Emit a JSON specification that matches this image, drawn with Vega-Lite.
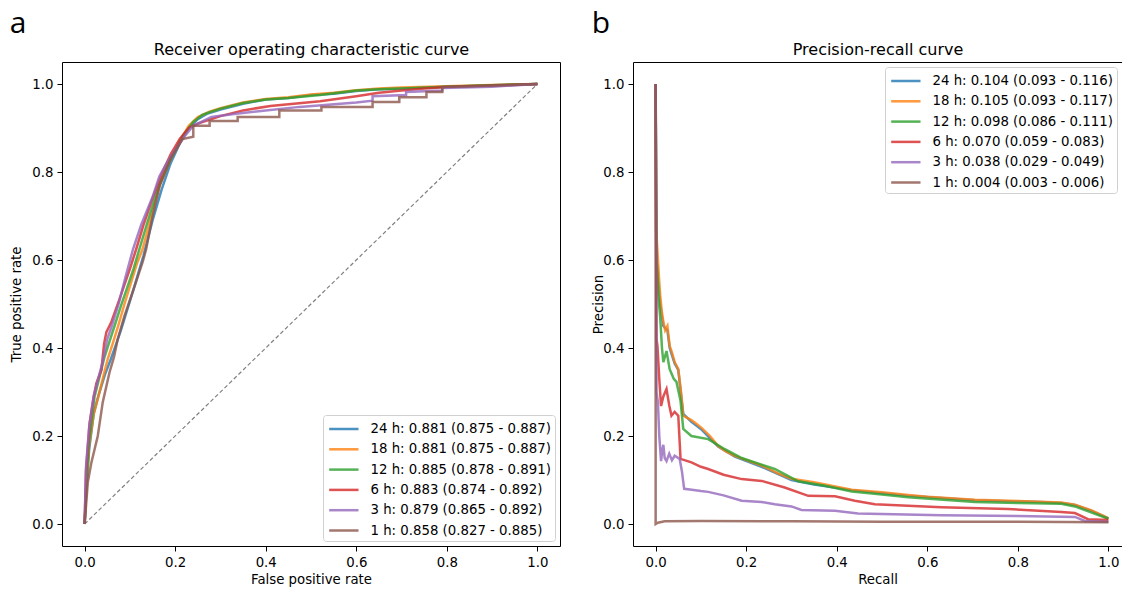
{
"$schema":"https://vega.github.io/schema/vega-lite/v6.json",
"padding":{"left":9,"top":8,"right":0,"bottom":0},
"bounds":"flush",
"spacing":73,
"background":"white",
"datasets":{
"roc":[
{"s":"24 h","x":0,"y":0},{"s":"24 h","x":0.004,"y":0.08},{"s":"24 h","x":0.01,"y":0.17},{"s":"24 h","x":0.02,"y":0.25},{"s":"24 h","x":0.03,"y":0.29},{"s":"24 h","x":0.045,"y":0.34},{"s":"24 h","x":0.058,"y":0.375},{"s":"24 h","x":0.07,"y":0.41},{"s":"24 h","x":0.08,"y":0.44},{"s":"24 h","x":0.095,"y":0.49},{"s":"24 h","x":0.11,"y":0.54},{"s":"24 h","x":0.13,"y":0.61},{"s":"24 h","x":0.15,"y":0.69},{"s":"24 h","x":0.17,"y":0.76},{"s":"24 h","x":0.19,"y":0.82},{"s":"24 h","x":0.21,"y":0.865},{"s":"24 h","x":0.23,"y":0.9},{"s":"24 h","x":0.25,"y":0.92},{"s":"24 h","x":0.27,"y":0.932},{"s":"24 h","x":0.3,"y":0.942},{"s":"24 h","x":0.35,"y":0.955},{"s":"24 h","x":0.4,"y":0.965},{"s":"24 h","x":0.45,"y":0.968},{"s":"24 h","x":0.5,"y":0.975},{"s":"24 h","x":0.55,"y":0.978},{"s":"24 h","x":0.6,"y":0.984},{"s":"24 h","x":0.65,"y":0.988},{"s":"24 h","x":0.7,"y":0.99},{"s":"24 h","x":0.8,"y":0.994},{"s":"24 h","x":0.9,"y":0.997},{"s":"24 h","x":1,"y":1},
{"s":"18 h","x":0,"y":0},{"s":"18 h","x":0.004,"y":0.09},{"s":"18 h","x":0.01,"y":0.18},{"s":"18 h","x":0.02,"y":0.25},{"s":"18 h","x":0.029,"y":0.284},{"s":"18 h","x":0.04,"y":0.33},{"s":"18 h","x":0.051,"y":0.375},{"s":"18 h","x":0.062,"y":0.41},{"s":"18 h","x":0.074,"y":0.45},{"s":"18 h","x":0.088,"y":0.5},{"s":"18 h","x":0.103,"y":0.55},{"s":"18 h","x":0.115,"y":0.59},{"s":"18 h","x":0.128,"y":0.625},{"s":"18 h","x":0.145,"y":0.69},{"s":"18 h","x":0.166,"y":0.77},{"s":"18 h","x":0.188,"y":0.825},{"s":"18 h","x":0.21,"y":0.87},{"s":"18 h","x":0.23,"y":0.905},{"s":"18 h","x":0.25,"y":0.925},{"s":"18 h","x":0.276,"y":0.937},{"s":"18 h","x":0.3,"y":0.945},{"s":"18 h","x":0.35,"y":0.958},{"s":"18 h","x":0.4,"y":0.966},{"s":"18 h","x":0.45,"y":0.97},{"s":"18 h","x":0.5,"y":0.976},{"s":"18 h","x":0.55,"y":0.98},{"s":"18 h","x":0.6,"y":0.986},{"s":"18 h","x":0.65,"y":0.99},{"s":"18 h","x":0.7,"y":0.992},{"s":"18 h","x":0.8,"y":0.995},{"s":"18 h","x":0.9,"y":0.998},{"s":"18 h","x":1,"y":1},
{"s":"12 h","x":0,"y":0},{"s":"12 h","x":0.004,"y":0.1},{"s":"12 h","x":0.01,"y":0.19},{"s":"12 h","x":0.022,"y":0.29},{"s":"12 h","x":0.033,"y":0.335},{"s":"12 h","x":0.044,"y":0.38},{"s":"12 h","x":0.055,"y":0.415},{"s":"12 h","x":0.066,"y":0.45},{"s":"12 h","x":0.08,"y":0.495},{"s":"12 h","x":0.095,"y":0.54},{"s":"12 h","x":0.108,"y":0.58},{"s":"12 h","x":0.121,"y":0.625},{"s":"12 h","x":0.14,"y":0.69},{"s":"12 h","x":0.155,"y":0.74},{"s":"12 h","x":0.166,"y":0.773},{"s":"12 h","x":0.188,"y":0.825},{"s":"12 h","x":0.217,"y":0.882},{"s":"12 h","x":0.24,"y":0.914},{"s":"12 h","x":0.26,"y":0.93},{"s":"12 h","x":0.276,"y":0.936},{"s":"12 h","x":0.3,"y":0.944},{"s":"12 h","x":0.35,"y":0.957},{"s":"12 h","x":0.4,"y":0.965},{"s":"12 h","x":0.45,"y":0.968},{"s":"12 h","x":0.52,"y":0.975},{"s":"12 h","x":0.6,"y":0.985},{"s":"12 h","x":0.65,"y":0.988},{"s":"12 h","x":0.7,"y":0.99},{"s":"12 h","x":0.8,"y":0.994},{"s":"12 h","x":0.9,"y":0.997},{"s":"12 h","x":1,"y":1},
{"s":"6 h","x":0,"y":0},{"s":"6 h","x":0.003,"y":0.12},{"s":"6 h","x":0.011,"y":0.23},{"s":"6 h","x":0.02,"y":0.29},{"s":"6 h","x":0.026,"y":0.32},{"s":"6 h","x":0.037,"y":0.35},{"s":"6 h","x":0.043,"y":0.41},{"s":"6 h","x":0.048,"y":0.436},{"s":"6 h","x":0.059,"y":0.459},{"s":"6 h","x":0.077,"y":0.511},{"s":"6 h","x":0.1,"y":0.58},{"s":"6 h","x":0.114,"y":0.625},{"s":"6 h","x":0.13,"y":0.68},{"s":"6 h","x":0.15,"y":0.74},{"s":"6 h","x":0.17,"y":0.795},{"s":"6 h","x":0.19,"y":0.84},{"s":"6 h","x":0.21,"y":0.875},{"s":"6 h","x":0.23,"y":0.9},{"s":"6 h","x":0.25,"y":0.91},{"s":"6 h","x":0.3,"y":0.927},{"s":"6 h","x":0.35,"y":0.94},{"s":"6 h","x":0.41,"y":0.95},{"s":"6 h","x":0.52,"y":0.961},{"s":"6 h","x":0.6,"y":0.972},{"s":"6 h","x":0.65,"y":0.98},{"s":"6 h","x":0.7,"y":0.985},{"s":"6 h","x":0.75,"y":0.99},{"s":"6 h","x":0.8,"y":0.993},{"s":"6 h","x":0.9,"y":0.996},{"s":"6 h","x":1,"y":1},
{"s":"3 h","x":0,"y":0},{"s":"3 h","x":0.003,"y":0.13},{"s":"3 h","x":0.01,"y":0.22},{"s":"3 h","x":0.02,"y":0.29},{"s":"3 h","x":0.03,"y":0.33},{"s":"3 h","x":0.04,"y":0.37},{"s":"3 h","x":0.05,"y":0.42},{"s":"3 h","x":0.06,"y":0.45},{"s":"3 h","x":0.075,"y":0.5},{"s":"3 h","x":0.09,"y":0.56},{"s":"3 h","x":0.107,"y":0.625},{"s":"3 h","x":0.125,"y":0.68},{"s":"3 h","x":0.15,"y":0.743},{"s":"3 h","x":0.165,"y":0.79},{"s":"3 h","x":0.18,"y":0.818},{"s":"3 h","x":0.2,"y":0.85},{"s":"3 h","x":0.22,"y":0.88},{"s":"3 h","x":0.24,"y":0.905},{"s":"3 h","x":0.26,"y":0.915},{"s":"3 h","x":0.28,"y":0.925},{"s":"3 h","x":0.33,"y":0.932},{"s":"3 h","x":0.4,"y":0.94},{"s":"3 h","x":0.475,"y":0.948},{"s":"3 h","x":0.6,"y":0.958},{"s":"3 h","x":0.636,"y":0.962},{"s":"3 h","x":0.636,"y":0.972},{"s":"3 h","x":0.71,"y":0.975},{"s":"3 h","x":0.71,"y":0.982},{"s":"3 h","x":0.79,"y":0.985},{"s":"3 h","x":0.79,"y":0.991},{"s":"3 h","x":0.9,"y":0.994},{"s":"3 h","x":1,"y":1},
{"s":"1 h","x":0,"y":0},{"s":"1 h","x":0.007,"y":0.095},{"s":"1 h","x":0.015,"y":0.14},{"s":"1 h","x":0.022,"y":0.17},{"s":"1 h","x":0.029,"y":0.2},{"s":"1 h","x":0.04,"y":0.277},{"s":"1 h","x":0.055,"y":0.345},{"s":"1 h","x":0.065,"y":0.38},{"s":"1 h","x":0.073,"y":0.42},{"s":"1 h","x":0.088,"y":0.473},{"s":"1 h","x":0.106,"y":0.527},{"s":"1 h","x":0.128,"y":0.595},{"s":"1 h","x":0.136,"y":0.625},{"s":"1 h","x":0.15,"y":0.7},{"s":"1 h","x":0.166,"y":0.77},{"s":"1 h","x":0.19,"y":0.83},{"s":"1 h","x":0.216,"y":0.875},{"s":"1 h","x":0.24,"y":0.88},{"s":"1 h","x":0.24,"y":0.905},{"s":"1 h","x":0.276,"y":0.905},{"s":"1 h","x":0.276,"y":0.916},{"s":"1 h","x":0.338,"y":0.916},{"s":"1 h","x":0.338,"y":0.925},{"s":"1 h","x":0.43,"y":0.925},{"s":"1 h","x":0.43,"y":0.94},{"s":"1 h","x":0.523,"y":0.94},{"s":"1 h","x":0.523,"y":0.948},{"s":"1 h","x":0.636,"y":0.948},{"s":"1 h","x":0.636,"y":0.959},{"s":"1 h","x":0.695,"y":0.959},{"s":"1 h","x":0.695,"y":0.97},{"s":"1 h","x":0.755,"y":0.97},{"s":"1 h","x":0.755,"y":0.982},{"s":"1 h","x":0.79,"y":0.982},{"s":"1 h","x":0.79,"y":0.993},{"s":"1 h","x":1,"y":1}
],
"pr":[
{"s":"24 h","x":0,"y":1},{"s":"24 h","x":0.002,"y":0.6},{"s":"24 h","x":0.006,"y":0.55},{"s":"24 h","x":0.01,"y":0.5},{"s":"24 h","x":0.017,"y":0.45},{"s":"24 h","x":0.026,"y":0.44},{"s":"24 h","x":0.031,"y":0.4},{"s":"24 h","x":0.042,"y":0.365},{"s":"24 h","x":0.05,"y":0.35},{"s":"24 h","x":0.061,"y":0.25},{"s":"24 h","x":0.079,"y":0.232},{"s":"24 h","x":0.102,"y":0.214},{"s":"24 h","x":0.138,"y":0.176},{"s":"24 h","x":0.175,"y":0.153},{"s":"24 h","x":0.234,"y":0.13},{"s":"24 h","x":0.3,"y":0.1},{"s":"24 h","x":0.35,"y":0.09},{"s":"24 h","x":0.433,"y":0.077},{"s":"24 h","x":0.5,"y":0.07},{"s":"24 h","x":0.558,"y":0.064},{"s":"24 h","x":0.705,"y":0.054},{"s":"24 h","x":0.85,"y":0.05},{"s":"24 h","x":0.896,"y":0.048},{"s":"24 h","x":0.926,"y":0.043},{"s":"24 h","x":0.963,"y":0.03},{"s":"24 h","x":1,"y":0.013},
{"s":"18 h","x":0,"y":1},{"s":"18 h","x":0.001,"y":0.67},{"s":"18 h","x":0.004,"y":0.62},{"s":"18 h","x":0.008,"y":0.55},{"s":"18 h","x":0.01,"y":0.52},{"s":"18 h","x":0.014,"y":0.48},{"s":"18 h","x":0.017,"y":0.46},{"s":"18 h","x":0.021,"y":0.44},{"s":"18 h","x":0.026,"y":0.45},{"s":"18 h","x":0.031,"y":0.405},{"s":"18 h","x":0.036,"y":0.39},{"s":"18 h","x":0.042,"y":0.368},{"s":"18 h","x":0.05,"y":0.352},{"s":"18 h","x":0.056,"y":0.3},{"s":"18 h","x":0.061,"y":0.246},{"s":"18 h","x":0.079,"y":0.236},{"s":"18 h","x":0.09,"y":0.228},{"s":"18 h","x":0.102,"y":0.218},{"s":"18 h","x":0.12,"y":0.2},{"s":"18 h","x":0.138,"y":0.177},{"s":"18 h","x":0.155,"y":0.165},{"s":"18 h","x":0.175,"y":0.155},{"s":"18 h","x":0.2,"y":0.145},{"s":"18 h","x":0.234,"y":0.133},{"s":"18 h","x":0.27,"y":0.115},{"s":"18 h","x":0.3,"y":0.103},{"s":"18 h","x":0.35,"y":0.095},{"s":"18 h","x":0.433,"y":0.078},{"s":"18 h","x":0.5,"y":0.072},{"s":"18 h","x":0.558,"y":0.066},{"s":"18 h","x":0.6,"y":0.062},{"s":"18 h","x":0.705,"y":0.055},{"s":"18 h","x":0.8,"y":0.052},{"s":"18 h","x":0.896,"y":0.049},{"s":"18 h","x":0.926,"y":0.044},{"s":"18 h","x":0.963,"y":0.031},{"s":"18 h","x":0.99,"y":0.018},{"s":"18 h","x":1,"y":0.013},
{"s":"12 h","x":0,"y":1},{"s":"12 h","x":0.002,"y":0.61},{"s":"12 h","x":0.006,"y":0.52},{"s":"12 h","x":0.01,"y":0.47},{"s":"12 h","x":0.014,"y":0.4},{"s":"12 h","x":0.017,"y":0.368},{"s":"12 h","x":0.024,"y":0.393},{"s":"12 h","x":0.031,"y":0.352},{"s":"12 h","x":0.04,"y":0.33},{"s":"12 h","x":0.046,"y":0.323},{"s":"12 h","x":0.055,"y":0.28},{"s":"12 h","x":0.061,"y":0.216},{"s":"12 h","x":0.079,"y":0.2},{"s":"12 h","x":0.116,"y":0.193},{"s":"12 h","x":0.153,"y":0.17},{"s":"12 h","x":0.19,"y":0.15},{"s":"12 h","x":0.234,"y":0.135},{"s":"12 h","x":0.263,"y":0.125},{"s":"12 h","x":0.315,"y":0.097},{"s":"12 h","x":0.374,"y":0.087},{"s":"12 h","x":0.433,"y":0.074},{"s":"12 h","x":0.5,"y":0.067},{"s":"12 h","x":0.558,"y":0.061},{"s":"12 h","x":0.705,"y":0.05},{"s":"12 h","x":0.8,"y":0.048},{"s":"12 h","x":0.896,"y":0.046},{"s":"12 h","x":0.926,"y":0.04},{"s":"12 h","x":0.963,"y":0.026},{"s":"12 h","x":1,"y":0.012},
{"s":"6 h","x":0,"y":1},{"s":"6 h","x":0.002,"y":0.42},{"s":"6 h","x":0.004,"y":0.405},{"s":"6 h","x":0.008,"y":0.33},{"s":"6 h","x":0.012,"y":0.268},{"s":"6 h","x":0.017,"y":0.29},{"s":"6 h","x":0.024,"y":0.307},{"s":"6 h","x":0.03,"y":0.27},{"s":"6 h","x":0.035,"y":0.246},{"s":"6 h","x":0.042,"y":0.255},{"s":"6 h","x":0.05,"y":0.246},{"s":"6 h","x":0.055,"y":0.148},{"s":"6 h","x":0.079,"y":0.14},{"s":"6 h","x":0.1,"y":0.13},{"s":"6 h","x":0.116,"y":0.125},{"s":"6 h","x":0.15,"y":0.112},{"s":"6 h","x":0.19,"y":0.102},{"s":"6 h","x":0.234,"y":0.098},{"s":"6 h","x":0.285,"y":0.083},{"s":"6 h","x":0.337,"y":0.064},{"s":"6 h","x":0.396,"y":0.063},{"s":"6 h","x":0.44,"y":0.053},{"s":"6 h","x":0.484,"y":0.045},{"s":"6 h","x":0.631,"y":0.038},{"s":"6 h","x":0.778,"y":0.034},{"s":"6 h","x":0.896,"y":0.027},{"s":"6 h","x":0.926,"y":0.025},{"s":"6 h","x":0.955,"y":0.011},{"s":"6 h","x":1,"y":0.009},
{"s":"3 h","x":0,"y":1},{"s":"3 h","x":0.002,"y":0.3},{"s":"3 h","x":0.005,"y":0.277},{"s":"3 h","x":0.008,"y":0.2},{"s":"3 h","x":0.012,"y":0.143},{"s":"3 h","x":0.015,"y":0.17},{"s":"3 h","x":0.017,"y":0.18},{"s":"3 h","x":0.02,"y":0.15},{"s":"3 h","x":0.024,"y":0.143},{"s":"3 h","x":0.03,"y":0.16},{"s":"3 h","x":0.036,"y":0.145},{"s":"3 h","x":0.042,"y":0.155},{"s":"3 h","x":0.053,"y":0.148},{"s":"3 h","x":0.058,"y":0.12},{"s":"3 h","x":0.063,"y":0.08},{"s":"3 h","x":0.08,"y":0.078},{"s":"3 h","x":0.1,"y":0.075},{"s":"3 h","x":0.116,"y":0.073},{"s":"3 h","x":0.15,"y":0.065},{"s":"3 h","x":0.19,"y":0.053},{"s":"3 h","x":0.234,"y":0.05},{"s":"3 h","x":0.263,"y":0.045},{"s":"3 h","x":0.3,"y":0.04},{"s":"3 h","x":0.322,"y":0.032},{"s":"3 h","x":0.396,"y":0.03},{"s":"3 h","x":0.447,"y":0.024},{"s":"3 h","x":0.631,"y":0.02},{"s":"3 h","x":0.8,"y":0.018},{"s":"3 h","x":0.926,"y":0.016},{"s":"3 h","x":0.948,"y":0.007},{"s":"3 h","x":1,"y":0.005},
{"s":"1 h","x":0,"y":1},{"s":"1 h","x":0,"y":0},{"s":"1 h","x":0.005,"y":0.003},{"s":"1 h","x":0.02,"y":0.006},{"s":"1 h","x":0.1,"y":0.007},{"s":"1 h","x":0.3,"y":0.006},{"s":"1 h","x":0.5,"y":0.005},{"s":"1 h","x":0.8,"y":0.005},{"s":"1 h","x":1,"y":0.004}
]
},
"hconcat":[
{
"width":498,"height":484,
"title":{"text":"a","anchor":"start","frame":"bounds","fontSize":30,"font":"Open Sans","fontWeight":"normal","color":"#000","offset":2},
"layer":[
{"data":{"values":[{}]},
"mark":{"type":"rule","color":"#808080","strokeWidth":1.2,"strokeDash":[4,2.5]},
"encoding":{"x":{"datum":0,"type":"quantitative","axis":{"orient":"top","title":"Receiver operating characteristic curve","titleFontSize":16,"labels":false,"ticks":false,"domain":false,"titlePadding":5}},"y":{"datum":0,"type":"quantitative"},"x2":{"datum":1},"y2":{"datum":1}}},
{"data":{"name":"roc"},
"mark":{"type":"line","strokeWidth":2.5,"opacity":0.8,"clip":true},
"encoding":{
"x":{"field":"x","type":"quantitative","scale":{"domain":[-0.05,1.05],"nice":false,"zero":false},"axis":{"orient":"bottom","title":"False positive rate","values":[0,0.2,0.4,0.6,0.8,1.0],"format":".1f"}},
"y":{"field":"y","type":"quantitative","scale":{"domain":[-0.05,1.05],"nice":false,"zero":false},"axis":{"title":"True positive rate","values":[0,0.2,0.4,0.6,0.8,1.0],"format":".1f","titlePadding":8}},
"color":{"field":"s","type":"nominal","scale":{"domain":["24 h","18 h","12 h","6 h","3 h","1 h"],"range":["#1f77b4","#ff7f0e","#2ca02c","#d62728","#9467bd","#8c564b"]},
"legend":{"orient":"bottom-right","offset":5,"labelExpr":"{'24 h':'24 h: 0.881 (0.875 - 0.887)','18 h':'18 h: 0.881 (0.875 - 0.887)','12 h':'12 h: 0.885 (0.878 - 0.891)','6 h':'6 h: 0.883 (0.874 - 0.892)','3 h':'3 h: 0.879 (0.865 - 0.892)','1 h':'1 h: 0.858 (0.827 - 0.885)'}[datum.label]"}},
"order":{"value":null}
}}
],
"resolve":{"axis":{"x":"independent"}}
},
{
"width":489,"height":484,
"title":{"text":"b","anchor":"start","frame":"bounds","fontSize":30,"font":"Open Sans","fontWeight":"normal","color":"#000","offset":2},
"layer":[
{"data":{"values":[{}]},
"mark":{"type":"rule","opacity":0},
"encoding":{"x":{"datum":0,"type":"quantitative","axis":{"orient":"top","title":"Precision-recall curve","titleFontSize":16,"labels":false,"ticks":false,"domain":false,"titlePadding":5}},"y":{"datum":0,"type":"quantitative"},"x2":{"datum":0.001},"y2":{"datum":0.001}}},
{"data":{"name":"pr"},
"mark":{"type":"line","strokeWidth":2.5,"opacity":0.8,"clip":true},
"encoding":{
"x":{"field":"x","type":"quantitative","scale":{"domain":[-0.05,1.03],"nice":false,"zero":false},"axis":{"orient":"bottom","title":"Recall","values":[0,0.2,0.4,0.6,0.8,1.0],"format":".1f"}},
"y":{"field":"y","type":"quantitative","scale":{"domain":[-0.05,1.05],"nice":false,"zero":false},"axis":{"title":"Precision","values":[0,0.2,0.4,0.6,0.8,1.0],"format":".1f","titlePadding":-3}},
"color":{"field":"s","type":"nominal","scale":{"domain":["24 h","18 h","12 h","6 h","3 h","1 h"],"range":["#1f77b4","#ff7f0e","#2ca02c","#d62728","#9467bd","#8c564b"]},
"legend":{"orient":"top-right","offset":5,"labelExpr":"{'24 h':'24 h: 0.104 (0.093 - 0.116)','18 h':'18 h: 0.105 (0.093 - 0.117)','12 h':'12 h: 0.098 (0.086 - 0.111)','6 h':'6 h: 0.070 (0.059 - 0.083)','3 h':'3 h: 0.038 (0.029 - 0.049)','1 h':'1 h: 0.004 (0.003 - 0.006)'}[datum.label]"}},
"order":{"value":null}
}}
],
"resolve":{"axis":{"x":"independent"}}
}
],
"resolve":{"scale":{"color":"independent"},"legend":{"color":"independent"}},
"config":{
"font":"DejaVu Sans",
"view":{"stroke":"#000","strokeWidth":1},
"axis":{"grid":false,"domain":false,"labelFont":"DejaVu Sans","titleFont":"DejaVu Sans","labelFontSize":13.3,"titleFontSize":13.3,"titleFontWeight":"normal","labelColor":"#000","titleColor":"#000","tickColor":"#000","tickSize":5,"tickWidth":1,"labelPadding":4,"labelFlush":false,"labelOverlap":false},
"legend":{"title":null,"symbolType":"M-0.92,0H2.53","symbolSize":289,"symbolStrokeWidth":2.5,"symbolOpacity":0.8,"labelFont":"DejaVu Sans","labelFontSize":13.3,"labelColor":"#000","strokeColor":"#d0d0d0","fillColor":"#ffffff","padding":4,"cornerRadius":3,"rowPadding":3.3,"labelOffset":23.5,"labelLimit":400}
}
}
